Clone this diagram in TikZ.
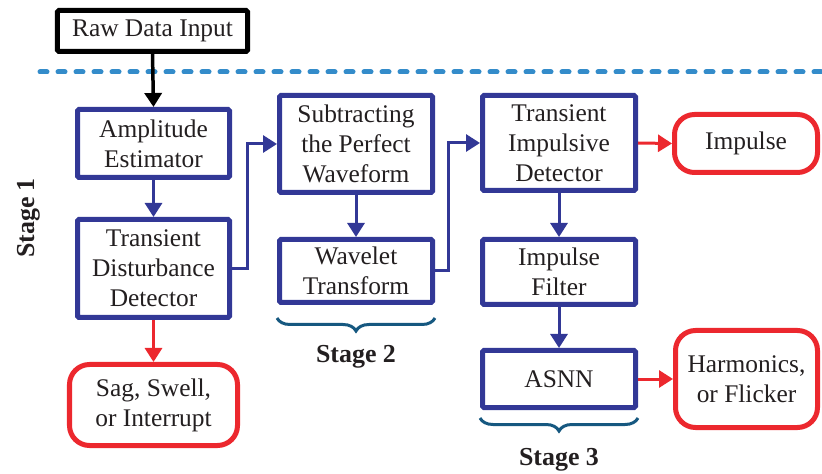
\documentclass[tikz,border=0pt]{standalone}
\usepackage{fontspec}
\setmainfont{Liberation Serif}
\usetikzlibrary{arrows.meta,decorations.pathreplacing}

\definecolor{boxblue}{RGB}{50,56,150}
\definecolor{outred}{RGB}{236,40,46}
\definecolor{dotblue}{RGB}{52,140,202}
\definecolor{bracecol}{RGB}{22,88,128}
\definecolor{ink}{RGB}{35,31,32}

\tikzset{
  every node/.style={text=ink, font=\rmfamily\fontsize{25.5}{30}\selectfont, align=center, inner sep=0pt},
  stagebox/.style={draw=boxblue, line width=5bp, rounded corners=1.5bp},
  outbox/.style={draw=outred, line width=5bp, rounded corners=20bp},
  inbox/.style={draw=black, line width=5bp, rounded corners=1.5bp},
  bluearrow/.style={-{Triangle[length=14bp,width=17bp,fill=boxblue]}, draw=boxblue, line width=3bp},
  redarrow/.style={-{Triangle[length=14bp,width=17bp,fill=outred]}, draw=outred, line width=3bp},
  blackarrow/.style={-{Triangle[length=14bp,width=17bp,fill=black]}, draw=black, line width=3.5bp},
  stagebrace/.style={draw=bracecol, line width=3bp, decorate,
    decoration={brace, mirror, amplitude=13bp}},
  stagelabel/.style={font=\rmfamily\bfseries\fontsize{26}{30}\selectfont}
}

\begin{document}
\begin{tikzpicture}[x=1bp,y=-1bp]
\useasboundingbox (0,0) rectangle (822,474);

% input and the separator line
\node[inbox, minimum width=190bp, minimum height=41bp] (raw) at (152.5,31) {Raw Data Input};
\coordinate (sepL) at (40,72);
\coordinate (sepR) at (822,72);
\draw[dotblue, line width=5bp, line cap=round, dash pattern=on 7bp off 11bp] (sepL) -- (sepR);

% stage 1
\node[stagebox, minimum width=152bp, minimum height=68bp] (amp) at (153.5,143.5) {Amplitude\\Estimator};
\node[stagebox, minimum width=152bp, minimum height=98bp] (tdd) at (153.5,268.5) {Transient\\Disturbance\\Detector};
\node[outbox, minimum width=168bp, minimum height=81bp] (sag) at (153.5,405) {Sag, Swell,\\or Interrupt};
\node[stagelabel, rotate=90] (s1) at (29,218) {Stage 1};

% stage 2
\node[stagebox, minimum width=153bp, minimum height=97bp] (sub) at (356,144) {Subtracting\\the Perfect\\Waveform};
\node[stagebox, minimum width=153bp, minimum height=63bp] (wav) at (356,271) {Wavelet\\Transform};

% stage 3
\node[stagebox, minimum width=153bp, minimum height=95bp] (tid) at (559,143) {Transient\\Impulsive\\Detector};
\node[stagebox, minimum width=153bp, minimum height=65bp] (imf) at (559,272) {Impulse\\Filter};
\node[stagebox, minimum width=153bp, minimum height=57bp] (asnn) at (559,379) {ASNN};
\node[outbox, minimum width=143bp, minimum height=58bp] (imp) at (746,143.5) {Impulse};
\node[outbox, minimum width=142bp, minimum height=97bp] (harm) at (746.5,379) {Harmonics,\\or Flicker};

% connectors
\draw[blackarrow] (raw.south) -- (amp.north);
\draw[bluearrow] (amp.south) -- (tdd.north);
\draw[redarrow] (tdd.south) -- (sag.north);
\draw[bluearrow] (tdd.east) -- ++(15,0) |- (sub.west);
\draw[bluearrow] (sub.south) -- (wav.north);
\draw[bluearrow] (wav.east) -- ++(13,0) |- (tid.west);
\draw[redarrow] (tid.east) -- (imp.west);
\draw[bluearrow] (tid.south) -- (imf.north);
\draw[bluearrow] (imf.south) -- (asnn.north);
\draw[redarrow] (asnn.east) -- (harm.west);

% stage braces
\coordinate (b2L) at (277,318);
\coordinate (b2R) at (435,318);
\draw[stagebrace] (b2L) -- (b2R);
\node[stagelabel] (s2) at (356,357) {Stage 2};
\coordinate (b3L) at (480,418);
\coordinate (b3R) at (638,418);
\draw[stagebrace] (b3L) -- (b3R);
\node[stagelabel] (s3) at (559,460) {Stage 3};
\end{tikzpicture}
\end{document}
